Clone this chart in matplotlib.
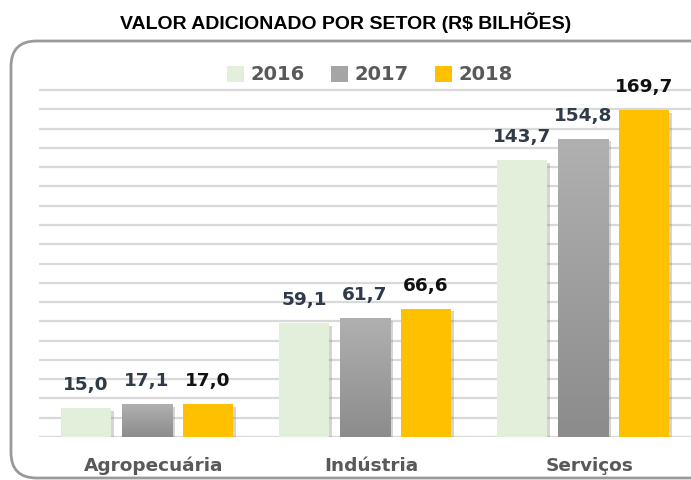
import matplotlib
matplotlib.use("Agg")
import matplotlib.pyplot as plt
import numpy as np
from matplotlib.patches import FancyBboxPatch
import matplotlib.patheffects as pe
from matplotlib.colors import LinearSegmentedColormap

categories = ["Agropecuária", "Indústria", "Serviços"]
years = ["2016", "2017", "2018"]
v2016 = [15.0, 59.1, 143.7]
v2017 = [17.1, 61.7, 154.8]
v2018 = [17.0, 66.6, 169.7]
title = "VALOR ADICIONADO POR SETOR (R$ BILHÕES)"
grid_ticks = list(range(0, 190, 10))

series = [v2016, v2017, v2018]
colors = ["#E2EFDA", "#A5A5A5", "#FFC000"]
label_colors = ["#303A48", "#303A48", "#111111"]

W, H = 691, 480
fig = plt.figure(figsize=(W / 100, H / 100), dpi=100)

# frame
frame = FancyBboxPatch((11 / W, 2 / H), 1.1, (480 - 41 - 2) / H,
                       boxstyle="round,pad=0,rounding_size=0.037",
                       transform=fig.transFigure, facecolor="white",
                       edgecolor="#9A9A9A", linewidth=2, clip_on=False,
                       mutation_aspect=W / H, zorder=-5)
fig.patches.append(frame)

ax_bottom = (H - 437) / H
ax_top = (H - 60) / H
ax = fig.add_axes([39 / W, ax_bottom, 1 - 39 / W, ax_top - ax_bottom])
ax.patch.set_visible(False)
ymax = (437 - 60) / 1.927
for s in ax.spines.values():
    s.set_visible(False)
ax.set_yticks([])
ax.set_xticks([])
for g in grid_ticks:
    ax.axhline(g, color="#D9D9D9", lw=1.6, zorder=0)

x = np.arange(len(categories))
step = 0.28
width = 0.23
shadow = [pe.SimplePatchShadow(offset=(2, -2), alpha=0.3, shadow_rgbFace="#777777"), pe.Normal()]
grad = LinearSegmentedColormap.from_list("g", ["#8C8C8C", "#B0B0B0"])
for i, (vals, c) in enumerate(zip(series, colors)):
    bars = ax.bar(x + (i - 1) * step, vals, width=width, color=c, zorder=2,
                  path_effects=shadow, label=years[i])
    for b, v in zip(bars, vals):
        if i == 1:
            bx, by, bw, bh = b.get_x(), b.get_y(), b.get_width(), b.get_height()
            im = ax.imshow(np.linspace(0, 1, 100).reshape(-1, 1), cmap=grad,
                           extent=[bx, bx + bw, by, by + bh], origin="lower",
                           aspect="auto", zorder=2.5)
            im.set_clip_path(b)
        ax.annotate(f"{v:.1f}".replace(".", ","), (b.get_x() + b.get_width() / 2, v),
                    xytext=(0, 10), textcoords="offset points", ha="center", va="bottom",
                    fontsize=13.3, fontweight="bold", color=label_colors[i],
                    family="DejaVu Sans", zorder=4)

ax.set_ylim(0, ymax)
ax.set_xlim(-0.495, 2.495)

for xi, cat in zip(x, categories):
    ax.text(xi + 0.03, -14.8, cat, ha="center", va="center", fontsize=13.3,
            fontweight="bold", color="#595959", family="DejaVu Sans")

leg = ax.legend(loc="center", bbox_to_anchor=((370 - 39) / (W - 39), (437 - 75) / (437 - 60)),
                ncol=3, frameon=False, handlelength=0.85, handleheight=0.85,
                handletextpad=0.36, columnspacing=1.35, borderpad=0,
                prop={"weight": "bold", "size": 14})
for t in leg.get_texts():
    t.set_color("#595959")
for h in leg.legend_handles:
    h.set_path_effects([])

fig.text(0.5, 1 - 23 / H, title, ha="center", va="center", fontsize=14,
         fontweight="bold", family=["Liberation Sans Narrow", "Liberation Sans", "DejaVu Sans"],
         color="#000000")

fig.savefig("out.png", dpi=100)
